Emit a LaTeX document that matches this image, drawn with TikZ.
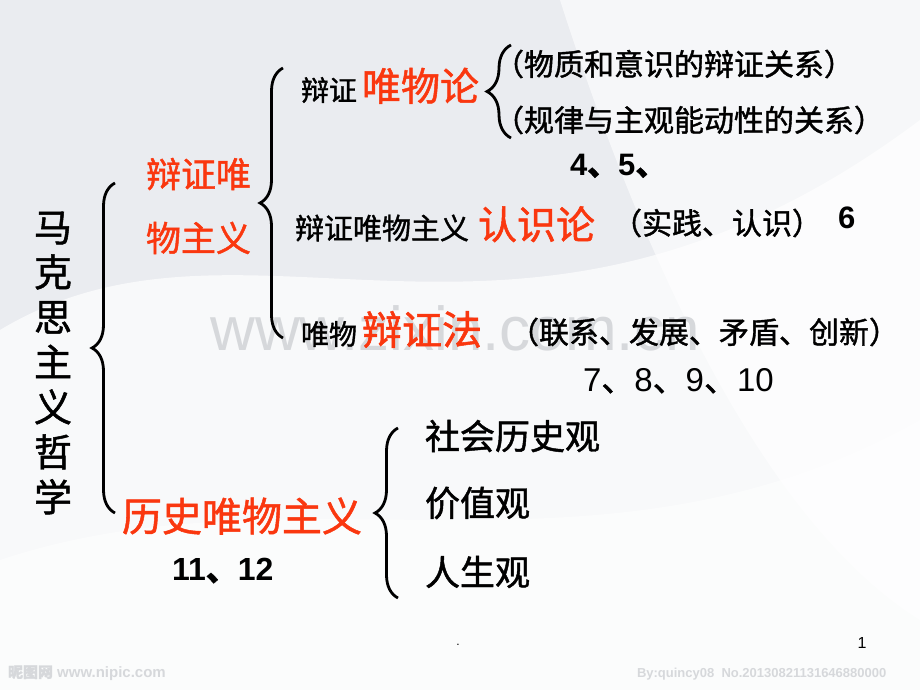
\documentclass[tikz,border=0pt]{standalone}
\usepackage{fontspec}
\newfontfamily\cjk{Noto Sans CJK SC}[FakeBold=1.3]
\newfontfamily\arial{Liberation Sans}
\usetikzlibrary{positioning, decorations.pathreplacing}
\definecolor{hongse}{RGB}{250,55,15}
\definecolor{bgbase}{RGB}{234,236,240}
\definecolor{shuiyin}{RGB}{214,216,219}
\newcommand\dunhao{{\cjk 、}}

\begin{document}
\begin{tikzpicture}[x=1pt, y=-1pt,
        every node/.style={inner sep=0pt, outer sep=0pt},
        txt/.style={font=\cjk\fontsize{28}{34}\selectfont, anchor=west},
        keyw/.style={font=\cjk\fontsize{39}{44}\selectfont, text=hongse, anchor=base west},
        note/.style={font=\cjk\fontsize{30}{34}\selectfont, anchor=west},
        guan/.style={font=\cjk\fontsize{35}{40}\selectfont, anchor=west},
        num/.style={font=\arial\bfseries\fontsize{31}{36}\selectfont, anchor=west},
        kuohao/.style={decorate, decoration={brace, amplitude=#1}, line width=2.8pt}
    ]
        \fill[bgbase] (0,0) rectangle (920,690);
        \fill[white, opacity=0.7] (0,330) .. controls (250,180) and (520,420) .. (920,120) -- (920,690) -- (0,690) -- cycle;
        \fill[white, opacity=0.6] (560,0) .. controls (640,250) and (760,520) .. (920,620) -- (920,0) -- cycle;
        \fill[white, opacity=0.5] (0,560) .. controls (300,460) and (600,600) .. (920,420) -- (920,690) -- (0,690) -- cycle;
        \useasboundingbox (0,0) rectangle (920,690);

        \node[font=\arial\fontsize{62}{62}\selectfont, text=shuiyin] (wm) at (455,328) {www.zixin.com.cn};
        \node[font=\arial\bfseries\fontsize{15}{15}\selectfont, text=shuiyin, anchor=west] (nipic) at (8,673) {{\cjk 昵图网} www.nipic.com};
        \node[font=\arial\bfseries\fontsize{13}{13}\selectfont, text=shuiyin, anchor=west] (byq) at (637,674) {By:quincy08\ \ No.20130821131646880000};

        \node[font=\cjk\fontsize{38}{45}\selectfont, align=center] (mkszy) at (53,363) {马\\克\\思\\主\\义\\哲\\学};
        \node[font=\cjk\fontsize{35}{64}\selectfont, text=hongse, align=left, anchor=west] (bzwwzy) at (146,206) {辩证唯\\物主义};
        \node[font=\cjk\fontsize{40}{44}\selectfont, text=hongse, anchor=west] (lswwzy) at (122,516) {历史唯物主义};
        \node[num, font=\arial\bfseries\fontsize{32}{36}\selectfont] (n1112) at (172,571) {11\dunhao 12};

        \node[txt] (bz1) at (301,90) {辩证};
        \node[keyw, xshift=5pt] (wwl) at (bz1.base east) {唯物论};
        \node[note] (wzys) at (494,64) {（物质和意识的辩证关系）};
        \node[note] (gldx) at (494,120) {（规律与主观能动性的关系）};
        \node[num] (n45) at (570,166) {4\dunhao 5\dunhao};

        \node[txt, font=\cjk\fontsize{29}{34}\selectfont] (bz2) at (295,228) {辩证唯物主义};
        \node[keyw, xshift=9pt] (rsl) at (bz2.base east) {认识论};
        \node[note] (sjrs) at (612,223) {（实践、认识）};
        \node[num] (n6) at (838,218) {6};

        \node[txt] (wu) at (301,334) {唯物};
        \node[keyw, xshift=5pt, font=\cjk\fontsize{40}{44}\selectfont] (bzf) at (wu.base east) {辩证法};
        \node[note] (lxfz) at (509,332) {（联系、发展、矛盾、创新）};
        \node[num, font=\arial\fontsize{33}{36}\selectfont] (n710) at (583,381) {7\dunhao 8\dunhao 9\dunhao 10};

        \node[guan] (shls) at (425,436) {社会历史观};
        \node[guan] (jzg) at (425,503) {价值观};
        \node[guan] (rsg) at (425,572) {人生观};

        \node[font=\arial\fontsize{16}{16}\selectfont] (yema) at (862,643) {1};
        \node[font=\arial\fontsize{12}{12}\selectfont] (dian) at (458,645) {.};

        \coordinate (k1a) at (115,513);
        \coordinate (k1b) at (115,183);
        \coordinate (k2a) at (283,338);
        \coordinate (k2b) at (283,68);
        \coordinate (k3a) at (511,138);
        \coordinate (k3b) at (511,45);
        \coordinate (k4a) at (398,598);
        \coordinate (k4b) at (398,428);
        \draw[kuohao=23pt] (k1a) -- (k1b);
        \draw[kuohao=23pt] (k2a) -- (k2b);
        \draw[kuohao=24pt] (k3a) -- (k3b);
        \draw[kuohao=23pt] (k4a) -- (k4b);
    \end{tikzpicture}
\end{document}
